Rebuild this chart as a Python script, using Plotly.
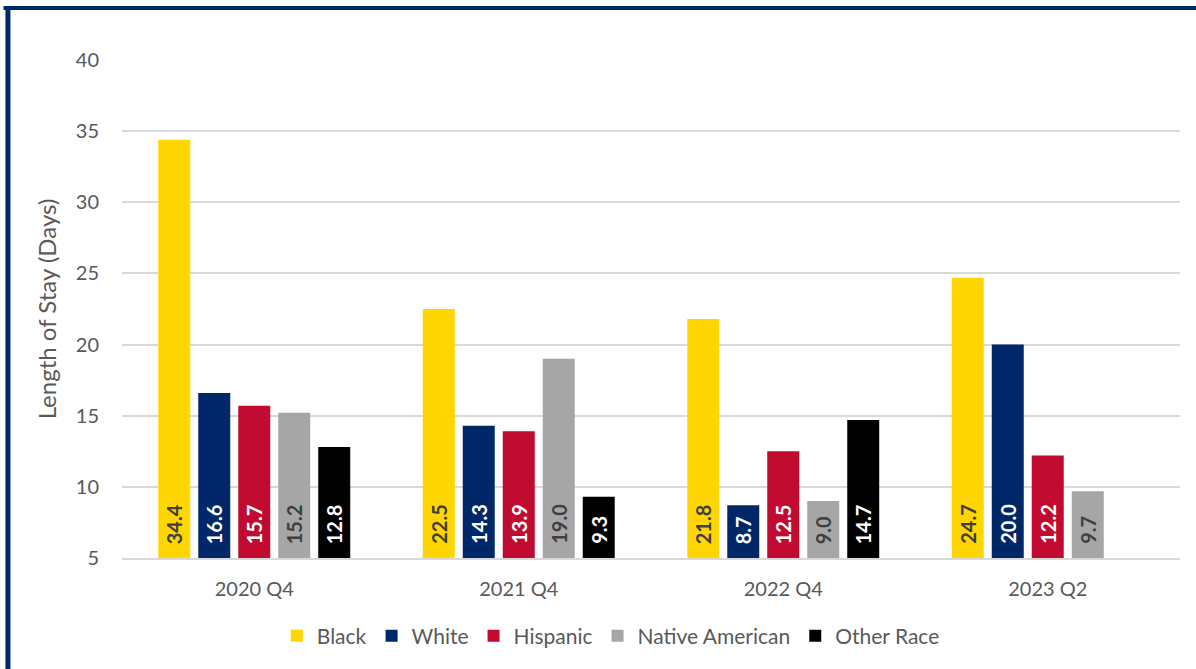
import plotly.graph_objects as go

# data
quarters = ["2020 Q4", "2021 Q4", "2022 Q4", "2023 Q2"]
black = [34.4, 22.5, 21.8, 24.7]
white = [16.6, 14.3, 8.7, 20.0]
hispanic = [15.7, 13.9, 12.5, 12.2]
native_american = [15.2, 19.0, 9.0, 9.7]
other_race = [12.8, 9.3, 14.7, None]

FONT = "Lato, sans-serif"
GREY_TEXT = "#595959"
Y_MIN = 5
SLOT_PX = 40  # width of one bar slot inside a group

series = [
    ("Black", black, "#FFD600", "#404040"),
    ("White", white, "#002868", "#FFFFFF"),
    ("Hispanic", hispanic, "#C00A30", "#FFFFFF"),
    ("Native American", native_american, "#A6A6A6", "#404040"),
    ("Other Race", other_race, "#000000", "#FFFFFF"),
]

fig = go.Figure()
for i, (name, vals, color, txt_color) in enumerate(series):
    fig.add_trace(
        go.Bar(
            x=quarters,
            y=vals,
            name=name,
            marker_color=color,
            marker_line_width=0,
        )
    )
    # value labels sit at the bottom of each bar (axis starts at 5, so the
    # bar base itself is off-screen and insidetextanchor can't be used)
    for q, v in zip(quarters, vals):
        if v is None:
            continue
        fig.add_annotation(
            x=q,
            y=Y_MIN,
            text=f"<b>{v:.1f}</b>",
            textangle=-90,
            showarrow=False,
            xanchor="center",
            yanchor="bottom",
            xshift=(i - 2) * SLOT_PX,
            yshift=12,
            font=dict(family=FONT, size=20, color=txt_color),
        )

# frame lines (left and top) of the original figure box
fig.add_shape(type="line", xref="paper", yref="paper",
              x0=-0.1078, x1=-0.1078, y0=1.1054, y1=-0.23,
              line=dict(color="#002868", width=5))
fig.add_shape(type="line", xref="paper", yref="paper",
              x0=-0.112, x1=1.02, y0=1.1044, y1=1.1044,
              line=dict(color="#002868", width=4))

fig.update_layout(
    width=1196,
    height=669,
    barmode="group",
    bargap=0.244,
    bargroupgap=0.2,
    plot_bgcolor="white",
    paper_bgcolor="white",
    margin=dict(l=122, r=16, t=60, b=111),
    font=dict(family=FONT, size=20, color=GREY_TEXT),
    legend=dict(
        orientation="h",
        x=0.462,
        xanchor="center",
        y=-0.157,
        yanchor="middle",
        font=dict(size=21, color=GREY_TEXT),
        itemwidth=30,
    ),
)
fig.update_xaxes(
    showline=True,
    linecolor="#D9D9D9",
    linewidth=2,
    ticks="",
    ticklabelstandoff=12,
    tickfont=dict(size=20, color=GREY_TEXT),
)
fig.update_yaxes(
    range=[Y_MIN, 40],
    dtick=5,
    tick0=5,
    showgrid=True,
    gridcolor="#D9D9D9",
    gridwidth=2,
    zeroline=False,
    ticks="",
    ticklabelstandoff=22,
    tickfont=dict(size=20, color=GREY_TEXT),
    title=dict(text="Length of Stay (Days)", font=dict(size=24, color=GREY_TEXT), standoff=12),
)

fig.write_html(
    "out.html",
    config={"displayModeBar": False},
    post_script="document.body.style.margin='0';",
)
